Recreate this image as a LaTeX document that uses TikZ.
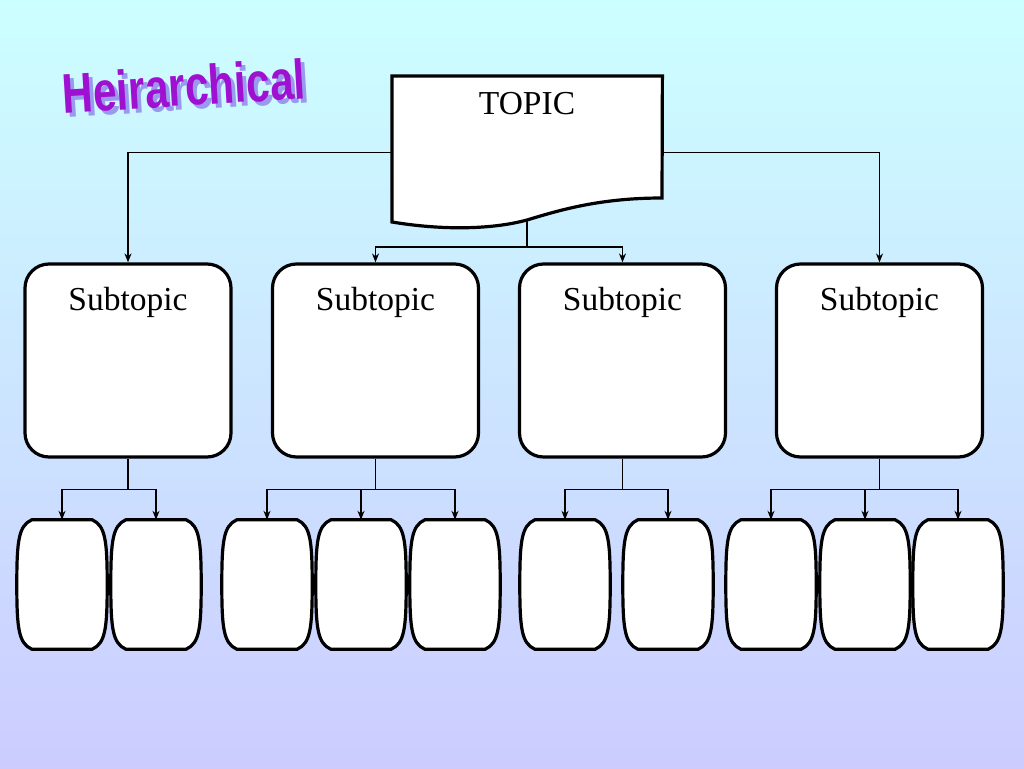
\documentclass[tikz,border=0pt]{standalone}
\usepackage{fontspec}
\setmainfont{Liberation Serif}
\newfontfamily\titlefont{Liberation Sans}
\usetikzlibrary{arrows.meta,calc}
\definecolor{bgtop}{HTML}{CCFFFF}
\definecolor{bgbot}{HTML}{CCCCFF}
\definecolor{titlecol}{HTML}{A010D0}
\definecolor{shadowcol}{HTML}{9999EE}
\tikzset{
  boxline/.style={line width=3.2pt, draw=black, fill=white},
  subbox/.style={boxline, rounded corners=24pt, minimum width=206pt, minimum height=193pt, inner sep=0pt},
  ghost/.style={draw=none, inner sep=0pt},
  conn/.style={line width=1.3pt, draw=black},
  arr/.style={conn, -{Stealth[length=9pt,width=7pt]}},
  bigtext/.style={font=\fontsize{33.5}{36}\selectfont, inner sep=0pt, anchor=base},
  titlestyle/.style={rotate=3.5, inner sep=0pt, xscale=0.76,
        font=\titlefont\bfseries\fontsize{56}{56}\selectfont},
}
\newcommand{\barrel}[1]{%
  \draw[boxline]
    ($(#1.north west)+(15,0)$) -- ($(#1.north east)+(-15,0)$)
    .. controls ($(#1.north east)+(-2,6)$) and ($(#1.east)+(0,-45)$) .. (#1.east)
    .. controls ($(#1.east)+(0,45)$) and ($(#1.south east)+(-2,-6)$) .. ($(#1.south east)+(-15,0)$)
    -- ($(#1.south west)+(15,0)$)
    .. controls ($(#1.south west)+(2,-6)$) and ($(#1.west)+(0,45)$) .. (#1.west)
    .. controls ($(#1.west)+(0,-45)$) and ($(#1.north west)+(2,6)$) .. ($(#1.north west)+(15,0)$) -- cycle;}
\begin{document}
\begin{tikzpicture}[x=1pt,y=-1pt]
  % background
  \shade[top color=bgtop, bottom color=bgbot] (0,0) rectangle (1024,768);
  \useasboundingbox (0,0) rectangle (1024,768);

  % title
  \node[titlestyle, text=shadowcol] (titleshadow) at (188,90) {Heirarchical};
  \node[titlestyle, text=titlecol] (title) at (184,86) {Heirarchical};

  % topic (document shape)
  \node[ghost, minimum width=270pt, minimum height=152pt, anchor=north west] (topic) at (392,76) {};
  \draw[boxline] (topic.north west) -- (topic.north east) -- (662,198)
     .. controls (600,198) and (560,210) .. (527,220)
     .. controls (490,230) and (440,230) .. (392,222) -- cycle;
  \coordinate (tb) at (527,221);
  \node[bigtext] (toptext) at (527,114) {TOPIC};

  % subtopics
  \node[subbox] (s1) at (128,360.5) {};
  \node[subbox] (s2) at (375.5,360.5) {};
  \node[subbox] (s3) at (622.5,360.5) {};
  \node[subbox] (s4) at (879.5,360.5) {};
  \foreach \s in {s1,s2,s3,s4}{
    \node[bigtext] (\s t) at ($(\s.north)+(0,48.5)$) {Subtopic};
  }

  % bottom barrels
  \foreach \n/\x in {b1/62,b2/156,b3/267,b4/361,b5/455,b6/565,b7/668,b8/771,b9/865,b10/958}{
    \node[ghost, minimum width=90pt, minimum height=129pt] (\n) at (\x,584.5) {};
    \barrel{\n}
  }

  % connectors from topic
  \draw[arr] (topic.west) -| (s1.north);
  \draw[arr] (topic.east) -| (s4.north);
  \draw[conn] (tb) -- (527,247) coordinate (tj);
  \draw[arr] (tj) -| (s2.north);
  \draw[arr] (tj) -| (s3.north);

  % connectors from subtopics
  \draw[conn] (s1.south) -- ++(0,31) coordinate (j1);
  \draw[arr] (j1) -| (b1.north);
  \draw[arr] (j1) -| (b2.north);
  \draw[conn] (s2.south) -- ++(0,31) coordinate (j2);
  \draw[arr] (j2) -| (b3.north);
  \draw[arr] (j2) -| (b4.north);
  \draw[arr] (j2) -| (b5.north);
  \draw[conn] (s3.south) -- ++(0,31) coordinate (j3);
  \draw[arr] (j3) -| (b6.north);
  \draw[arr] (j3) -| (b7.north);
  \draw[conn] (s4.south) -- ++(0,31) coordinate (j4);
  \draw[arr] (j4) -| (b8.north);
  \draw[arr] (j4) -| (b9.north);
  \draw[arr] (j4) -| (b10.north);
\end{tikzpicture}
\end{document}
